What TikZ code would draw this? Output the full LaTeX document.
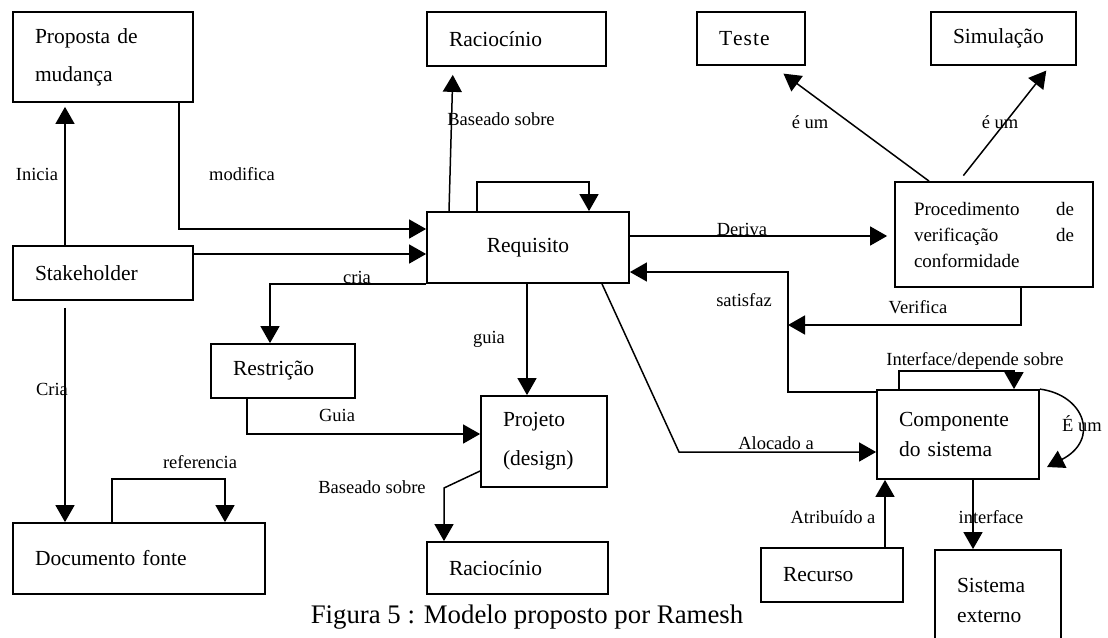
\documentclass[tikz,border=0pt]{standalone}
\usepackage{fontspec}
\setmainfont{Liberation Serif}
\usetikzlibrary{arrows.meta}

\tikzset{
	box/.style={draw, line width=1.8pt, inner xsep=22pt, inner ysep=0pt, align=left,
		font=\fontsize{21.5}{38}\selectfont},
	arr/.style={line width=1.5pt, -{Triangle[length=17pt,width=19pt]}},
	lbl/.style={font=\fontsize{18.5}{20}\selectfont, inner sep=0pt, text height=0.66em, text depth=0pt},
}

\begin{document}
\begin{tikzpicture}[x=1pt, y=-1pt]
	\useasboundingbox (0,0) rectangle (1108,637);

	% Define the boxes with specific positions
	\node[box, text width=136pt, minimum height=90pt] (prop) at (103,57) {Proposta de\\mudança};
	\node[box, text width=135pt, minimum height=54pt] (raci1) at (516.5,39) {Raciocínio};
	\node[box, text width=64pt, minimum height=53pt] (teste) at (751,38.5) {T\kern1pt e\kern1pt s\kern1pt t\kern1pt e};
	\node[box, text width=101pt, minimum height=53pt] (simul) at (1003.5,38.5) {Simulação};
	\node[box, text width=158pt, minimum height=71pt, align=center] (req) at (528,247.5) {Requisito};
	\node[box, text width=160pt, inner xsep=19pt, minimum height=105pt,
		font=\fontsize{19}{26}\selectfont] (proc) at (994,234.5)
		{\leavevmode\hbox to 160pt{Procedimento\hfill de}\\\leavevmode\hbox to 160pt{verificação\hfill de}\\conformidade};
	\node[box, text width=136pt, minimum height=54pt] (stake) at (103,273) {Stakeholder};
	\node[box, text width=100pt, minimum height=54pt] (restr) at (283,371) {Restrição};
	\node[box, text width=82pt, minimum height=91pt, font=\fontsize{21.5}{39}\selectfont] (proj) at (544,441.5) {Projeto\\(design)};
	\node[box, text width=118pt, minimum height=89pt, font=\fontsize{21.5}{30}\selectfont] (comp) at (958,434.5) {Componente\\do sistema};
	\node[box, text width=208pt, minimum height=71pt] (docf) at (139,558.5) {Documento fonte};
	\node[box, text width=137pt, minimum height=52pt] (raci2) at (517.5,568) {Raciocínio};
	\node[box, text width=98pt, minimum height=54pt] (recur) at (832,575) {Recurso};
	\node[box, text width=82pt, minimum height=100pt, font=\fontsize{21.5}{30}\selectfont] (sisext) at (998,600) {Sistema\\externo};

	\node[font=\fontsize{26.8}{30}\selectfont, anchor=base] (cap) at (527,623) {Figura 5 : Modelo proposto por Ramesh};

	% Bend points of the connectors
	\coordinate (sat) at (788,392);
	\coordinate (aloc) at (679,452);
	\coordinate (bas) at (444,488);
	\coordinate (eum) at (1047,467);

	% Draw the connectors between the boxes
	\draw[arr, shorten >=4pt] (stake.north -| 65,0) -- (prop.south -| 65,0);
	\draw[arr] (prop.south -| 179,0) |- (req.west |- 0,229);
	\draw[arr] (stake.east |- 0,254) -- (req.west |- 0,254);
	\draw[arr] (req.south west) -| (restr.north -| 270,0);
	\draw[arr, shorten >=8pt] (req.north -| 449,0) -- (raci1.south -| 453,0);
	\draw[arr] (req.north -| 477,0) -- ++(0,-29) -| (req.north -| 589,0);
	\draw[arr, shorten >=7pt] (req.east |- 0,236) -- (proc.west |- 0,236);
	\draw[arr, shorten >=13pt] (proc.north -| 929,0) -- (teste.south -| 773,0);
	\draw[arr, shorten <=7pt, shorten >=6pt] (proc.north -| 959,0) -- (simul.south -| 1050,0);
	\draw[arr] (comp.west |- sat) -- (sat) |- (req.east |- 0,272);
	\draw[arr] (proc.south -| 1021,0) |- (sat |- 0,325);
	\draw[arr] (req.south -| 527,0) -- (proj.north -| 527,0);
	\draw[arr] (req.south -| 602,0) -- (aloc) -- (comp.west |- aloc);
	\draw[arr] (restr.south -| 247,0) |- (proj.west |- 0,434);
	\draw[arr, shorten <=7pt] (stake.south -| 65,0) -- (docf.north -| 65,0);
	\draw[arr] (docf.north -| 112,0) -- ++(0,-43) -| (docf.north -| 225,0);
	\draw[arr] (proj.west |- 0,471) -- (bas) -- (raci2.north -| bas);
	\draw[arr] (comp.north -| 899,0) -- ++(0,-18) -| (comp.north -| 1014,0);
	\draw[arr] (comp.north east) .. controls (1085,395) and (1100,440) .. (eum);
	\draw[arr] (recur.north -| 885,0) -- (comp.south -| 885,0);
	\draw[arr] (comp.south -| 973,0) -- (sisext.north -| 973,0);

	% Labels of the connectors
	\node[lbl] (lInicia) at (37,177) {Inicia};
	\node[lbl] (lModif) at (242,177) {modifica};
	\node[lbl] (lCria) at (357,280) {cria};
	\node[lbl] (lBase1) at (501,122) {Baseado sobre};
	\node[lbl] (lDeriva) at (742,232) {Deriva};
	\node[lbl] (lEum1) at (810,125) {é um};
	\node[lbl] (lEum2) at (1000,125) {é um};
	\node[lbl] (lSatis) at (744,303) {satisfaz};
	\node[lbl] (lVerif) at (918,310) {Verifica};
	\node[lbl] (lGuia1) at (489,340) {guia};
	\node[lbl] (lInterf) at (975,362) {Interface/depende sobre};
	\node[lbl] (lCria2) at (52,392) {Cria};
	\node[lbl] (lGuia2) at (337,418) {Guia};
	\node[lbl] (lEum3) at (1082,428) {É um};
	\node[lbl] (lAloc) at (776,446) {Alocado a};
	\node[lbl] (lRef) at (200,465) {referencia};
	\node[lbl] (lBase2) at (372,490) {Baseado sobre};
	\node[lbl] (lAtrib) at (833,520) {Atribuído a};
	\node[lbl] (lInt) at (991,520) {interface};
\end{tikzpicture}
\end{document}
